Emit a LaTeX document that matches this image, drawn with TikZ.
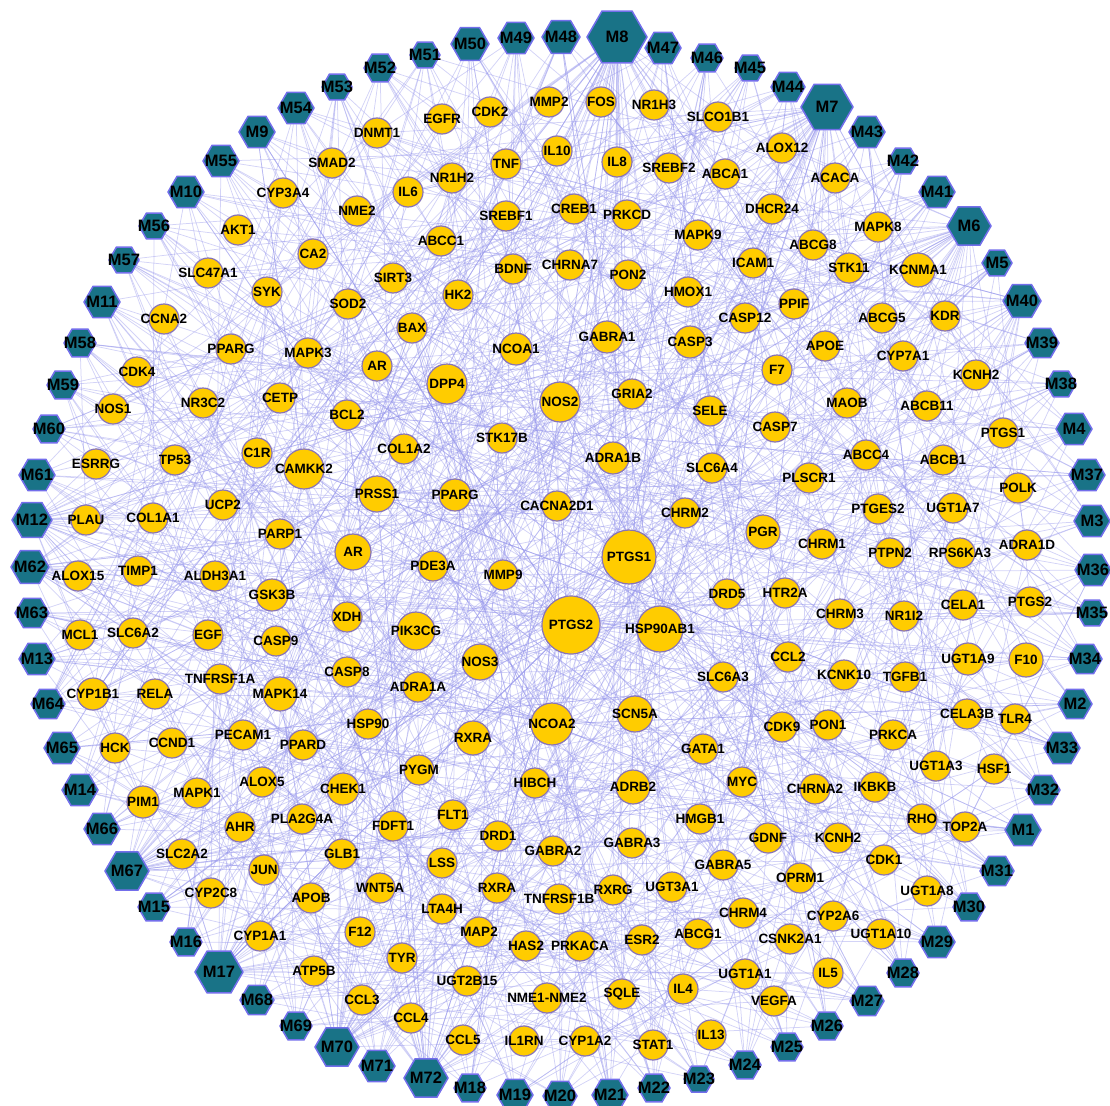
\documentclass[tikz,border=0pt]{standalone}
\usepackage{fontspec}
\setmainfont{Liberation Sans}
\usetikzlibrary{shapes.geometric}

\pgfdeclarelayer{back}
\pgfsetlayers{back,main}

\definecolor{hexfill}{RGB}{25,115,135}
\definecolor{hexline}{RGB}{115,110,235}
\definecolor{tgtfill}{RGB}{255,204,0}
\definecolor{tgtline}{RGB}{135,115,185}
\definecolor{linkcol}{RGB}{150,150,235}

\tikzset{
  tlab/.style={font=\bfseries\fontsize{13.5}{14}\selectfont, text=black, inner sep=0pt},
  hlab/.style={font=\bfseries\fontsize{16.5}{17}\selectfont, text=black, inner sep=0pt},
  target/.style={circle, draw=tgtline, fill=tgtfill, line width=1.2pt,
    minimum size=30pt, inner sep=0pt, label={[tlab]center:#1}},
  hexa/.style={regular polygon, regular polygon sides=6, draw=hexline, fill=hexfill,
    line width=1.5pt, minimum size=34pt, inner sep=0pt, label={[hlab]center:#1}},
  link/.style={draw=linkcol, line width=0.75pt, opacity=0.42},
}

\begin{document}
\begin{tikzpicture}[x=1pt, y=-1pt]
\useasboundingbox (0,0) rectangle (1110,1105);

% Outer ring: the compounds.
\node[hexa=M8, minimum size=60pt] (m8) at (617,37) {};
\node[hexa=M47, minimum size=36pt] (m47) at (663,48) {};
\node[hexa=M46, minimum size=32pt] (m46) at (707,58) {};
\node[hexa=M45, minimum size=30pt] (m45) at (750,68) {};
\node[hexa=M44, minimum size=34pt] (m44) at (788,87) {};
\node[hexa=M7, minimum size=52pt] (m7) at (827,107) {};
\node[hexa=M43, minimum size=36pt] (m43) at (867,132) {};
\node[hexa=M42, minimum size=30pt] (m42) at (903,161) {};
\node[hexa=M41, minimum size=36pt] (m41) at (937,192) {};
\node[hexa=M6, minimum size=44pt] (m6) at (969,226) {};
\node[hexa=M5, minimum size=30pt] (m5) at (997,263) {};
\node[hexa=M40, minimum size=38pt] (m40) at (1022,301) {};
\node[hexa=M39, minimum size=34pt] (m39) at (1042,343) {};
\node[hexa=M38, minimum size=30pt] (m38) at (1061,384) {};
\node[hexa=M4, minimum size=36pt] (m4) at (1074,429) {};
\node[hexa=M37, minimum size=36pt] (m37) at (1087,475) {};
\node[hexa=M3, minimum size=36pt] (m3) at (1092,521) {};
\node[hexa=M36, minimum size=36pt] (m36) at (1093,570) {};
\node[hexa=M35, minimum size=30pt] (m35) at (1092,613) {};
\node[hexa=M34, minimum size=34pt] (m34) at (1085,659) {};
\node[hexa=M2, minimum size=34pt] (m2) at (1075,704) {};
\node[hexa=M33, minimum size=36pt] (m33) at (1062,748) {};
\node[hexa=M32, minimum size=34pt] (m32) at (1043,790) {};
\node[hexa=M1, minimum size=36pt] (m1) at (1023,830) {};
\node[hexa=M31, minimum size=34pt] (m31) at (997,871) {};
\node[hexa=M30, minimum size=32pt] (m30) at (969,907) {};
\node[hexa=M29, minimum size=36pt] (m29) at (937,942) {};
\node[hexa=M28, minimum size=32pt] (m28) at (903,973) {};
\node[hexa=M27, minimum size=34pt] (m27) at (867,1001) {};
\node[hexa=M26, minimum size=32pt] (m26) at (827,1026) {};
\node[hexa=M25, minimum size=32pt] (m25) at (787,1047) {};
\node[hexa=M24, minimum size=32pt] (m24) at (745,1065) {};
\node[hexa=M23, minimum size=30pt] (m23) at (699,1079) {};
\node[hexa=M22, minimum size=32pt] (m22) at (654,1088) {};
\node[hexa=M21, minimum size=36pt] (m21) at (610,1095) {};
\node[hexa=M20, minimum size=34pt] (m20) at (560,1096) {};
\node[hexa=M19, minimum size=36pt] (m19) at (515,1095) {};
\node[hexa=M18, minimum size=32pt] (m18) at (470,1088) {};
\node[hexa=M72, minimum size=44pt] (m72) at (426,1078) {};
\node[hexa=M71, minimum size=36pt] (m71) at (377,1066) {};
\node[hexa=M70, minimum size=44pt] (m70) at (337,1047) {};
\node[hexa=M69, minimum size=32pt] (m69) at (296,1026) {};
\node[hexa=M68, minimum size=34pt] (m68) at (257,1000) {};
\node[hexa=M17, minimum size=48pt] (m17) at (219,972) {};
\node[hexa=M16, minimum size=32pt] (m16) at (186,942) {};
\node[hexa=M15, minimum size=32pt] (m15) at (154,907) {};
\node[hexa=M67, minimum size=44pt] (m67) at (127,871) {};
\node[hexa=M66, minimum size=36pt] (m66) at (102,829) {};
\node[hexa=M14, minimum size=36pt] (m14) at (80,790) {};
\node[hexa=M65, minimum size=36pt] (m65) at (62,748) {};
\node[hexa=M64, minimum size=34pt] (m64) at (48,704) {};
\node[hexa=M13, minimum size=36pt] (m13) at (37,659) {};
\node[hexa=M63, minimum size=34pt] (m63) at (32,613) {};
\node[hexa=M62, minimum size=38pt] (m62) at (30,567) {};
\node[hexa=M12, minimum size=40pt] (m12) at (32,520) {};
\node[hexa=M61, minimum size=36pt] (m61) at (37,475) {};
\node[hexa=M60, minimum size=32pt] (m60) at (49,429) {};
\node[hexa=M59, minimum size=32pt] (m59) at (63,385) {};
\node[hexa=M58, minimum size=32pt] (m58) at (80,343) {};
\node[hexa=M11, minimum size=36pt] (m11) at (102,302) {};
\node[hexa=M57, minimum size=30pt] (m57) at (124,260) {};
\node[hexa=M56, minimum size=30pt] (m56) at (154,226) {};
\node[hexa=M10, minimum size=36pt] (m10) at (186,192) {};
\node[hexa=M55, minimum size=36pt] (m55) at (221,161) {};
\node[hexa=M9, minimum size=36pt] (m9) at (257,132) {};
\node[hexa=M54, minimum size=36pt] (m54) at (296,108) {};
\node[hexa=M53, minimum size=30pt] (m53) at (337,87) {};
\node[hexa=M52, minimum size=32pt] (m52) at (380,68) {};
\node[hexa=M51, minimum size=30pt] (m51) at (425,55) {};
\node[hexa=M50, minimum size=38pt] (m50) at (470,44) {};
\node[hexa=M49, minimum size=36pt] (m49) at (516,38) {};
\node[hexa=M48, minimum size=38pt] (m48) at (561,37) {};

% Inner disc: the targets.
\node[target=DNMT1] (dnmt1) at (377,133) {};
\node[target=EGFR] (egfr) at (442,119) {};
\node[target=CDK2] (cdk2) at (490,112) {};
\node[target=MMP2] (mmp2) at (549,102) {};
\node[target=FOS] (fos) at (601,102) {};
\node[target=NR1H3] (nr1h3) at (654,105) {};
\node[target=SLCO1B1] (slco1b1) at (718,117) {};
\node[target=ALOX12] (alox12) at (782,148) {};
\node[target=ACACA] (acaca) at (835,178) {};
\node[target=SMAD2] (smad2) at (332,163) {};
\node[target=NR1H2] (nr1h2) at (452,178) {};
\node[target=TNF] (tnf) at (506,164) {};
\node[target=IL10] (il10) at (557,151) {};
\node[target=IL8] (il8) at (617,162) {};
\node[target=SREBF2] (srebf2) at (669,168) {};
\node[target=ABCA1] (abca1) at (725,174) {};
\node[target=CYP3A4] (cyp3a4) at (283,193) {};
\node[target=IL6] (il6) at (408,192) {};
\node[target=NME2] (nme2) at (357,211) {};
\node[target=SREBF1] (srebf1) at (506,216) {};
\node[target=CREB1] (creb1) at (574,209) {};
\node[target=PRKCD] (prkcd) at (627,215) {};
\node[target=DHCR24] (dhcr24) at (772,209) {};
\node[target=MAPK8] (mapk8) at (878,227) {};
\node[target=AKT1] (akt1) at (238,230) {};
\node[target=ABCC1] (abcc1) at (441,241) {};
\node[target=MAPK9] (mapk9) at (698,235) {};
\node[target=ABCG8] (abcg8) at (813,245) {};
\node[target=CA2] (ca2) at (313,254) {};
\node[target=SIRT3] (sirt3) at (393,278) {};
\node[target=BDNF] (bdnf) at (513,269) {};
\node[target=CHRNA7] (chrna7) at (570,265) {};
\node[target=PON2] (pon2) at (628,275) {};
\node[target=HMOX1] (hmox1) at (688,292) {};
\node[target=ICAM1] (icam1) at (753,263) {};
\node[target=STK11] (stk11) at (849,268) {};
\node[target=KCNMA1, minimum size=34pt] (kcnma1) at (918,270) {};
\node[target=SLC47A1] (slc47a1) at (208,273) {};
\node[target=SYK] (syk) at (267,292) {};
\node[target=HK2] (hk2) at (458,295) {};
\node[target=SOD2] (sod2) at (348,304) {};
\node[target=PPIF] (ppif) at (794,304) {};
\node[target=CCNA2] (ccna2) at (164,319) {};
\node[target=BAX] (bax) at (412,328) {};
\node[target=NCOA1, minimum size=32pt] (ncoa1) at (516,349) {};
\node[target=GABRA1, minimum size=32pt] (gabra1) at (607,337) {};
\node[target=CASP3, minimum size=32pt] (casp3) at (690,342) {};
\node[target=CASP12] (casp12) at (745,318) {};
\node[target=ABCG5] (abcg5) at (882,318) {};
\node[target=KDR] (kdr) at (945,316) {};
\node[target=PPARG] (pparg) at (231,349) {};
\node[target=MAPK3] (mapk3) at (308,353) {};
\node[target=AR] (ar) at (377,366) {};
\node[target=DPP4, minimum size=40pt] (dpp4) at (447,384) {};
\node[target=APOE] (apoe) at (825,346) {};
\node[target=CYP7A1] (cyp7a1) at (903,356) {};
\node[target=CDK4] (cdk4) at (137,372) {};
\node[target=F7] (f7) at (777,370) {};
\node[target=KCNH2] (kcnh2) at (976,375) {};
\node[target=NOS1] (nos1) at (113,409) {};
\node[target=NR3C2] (nr3c2) at (203,403) {};
\node[target=CETP] (cetp) at (280,398) {};
\node[target=BCL2] (bcl2) at (347,415) {};
\node[target=NOS2, minimum size=40pt] (nos2) at (560,402) {};
\node[target=GRIA2] (gria2) at (632,394) {};
\node[target=SELE] (sele) at (710,411) {};
\node[target=MAOB] (maob) at (847,403) {};
\node[target=ABCB11] (abcb11) at (927,406) {};
\node[target=ESRRG] (esrrg) at (96,464) {};
\node[target=TP53] (tp53) at (175,460) {};
\node[target=C1R] (c1r) at (257,453) {};
\node[target=CAMKK2, minimum size=40pt] (camkk2) at (304,469) {};
\node[target=COL1A2] (col1a2) at (404,449) {};
\node[target=STK17B] (stk17b) at (502,438) {};
\node[target=ADRA1B, minimum size=32pt] (adra1b) at (613,458) {};
\node[target=CASP7] (casp7) at (775,427) {};
\node[target=ABCC4] (abcc4) at (866,455) {};
\node[target=PTGS1] (ptgs1b) at (1003,433) {};
\node[target=SLC6A4] (slc6a4) at (712,468) {};
\node[target=PLSCR1] (plscr1) at (809,478) {};
\node[target=ABCB1] (abcb1) at (943,460) {};
\node[target=COL1A1] (col1a1) at (153,518) {};
\node[target=PRSS1, minimum size=36pt] (prss1) at (377,494) {};
\node[target=PPARG, minimum size=32pt] (pparg2) at (455,495) {};
\node[target=CACNA2D1] (cacna2d1) at (557,506) {};
\node[target=CHRM2] (chrm2) at (685,513) {};
\node[target=PGR, minimum size=34pt] (pgr) at (763,532) {};
\node[target=PTGES2] (ptges2) at (878,509) {};
\node[target=UGT1A7] (ugt1a7) at (953,508) {};
\node[target=POLK] (polk) at (1018,488) {};
\node[target=PLAU] (plau) at (86,520) {};
\node[target=UCP2] (ucp2) at (223,505) {};
\node[target=PARP1] (parp1) at (280,534) {};
\node[target=CHRM1] (chrm1) at (822,544) {};
\node[target=PTPN2] (ptpn2) at (890,553) {};
\node[target=RPS6KA3] (rps6ka3) at (960,553) {};
\node[target=ADRA1D] (adra1d) at (1027,545) {};
\node[target=ALOX15] (alox15) at (78,576) {};
\node[target=TIMP1] (timp1) at (138,571) {};
\node[target=ALDH3A1] (aldh3a1) at (215,576) {};
\node[target=AR, minimum size=36pt] (ar2) at (353,552) {};
\node[target=PDE3A] (pde3a) at (433,566) {};
\node[target=MMP9] (mmp9) at (503,575) {};
\node[target=PTGS1, minimum size=54pt] (ptgs1) at (629,557) {};
\node[target=DRD5] (drd5) at (727,594) {};
\node[target=HTR2A] (htr2a) at (785,593) {};
\node[target=CELA1] (cela1) at (963,605) {};
\node[target=PTGS2] (ptgs2b) at (1030,602) {};
\node[target=GSK3B, minimum size=32pt] (gsk3b) at (272,595) {};
\node[target=XDH] (xdh) at (347,617) {};
\node[target=PIK3CG, minimum size=38pt] (pik3cg) at (416,631) {};
\node[target=PTGS2, minimum size=58pt] (ptgs2) at (571,625) {};
\node[target=HSP90AB1, minimum size=46pt] (hsp90ab1) at (660,629) {};
\node[target=CHRM3] (chrm3) at (840,614) {};
\node[target=NR1I2] (nr1i2) at (904,616) {};
\node[target=MCL1] (mcl1) at (80,635) {};
\node[target=SLC6A2] (slc6a2) at (133,633) {};
\node[target=EGF] (egf) at (208,635) {};
\node[target=CASP9] (casp9) at (276,641) {};
\node[target=NOS3, minimum size=36pt] (nos3) at (480,662) {};
\node[target=UGT1A9, minimum size=32pt] (ugt1a9) at (968,659) {};
\node[target=F10, minimum size=34pt] (f10) at (1026,660) {};
\node[target=CYP1B1, minimum size=32pt] (cyp1b1) at (93,694) {};
\node[target=RELA] (rela) at (155,694) {};
\node[target=TNFRSF1A] (tnfrsf1a) at (220,679) {};
\node[target=MAPK14, minimum size=34pt] (mapk14) at (280,694) {};
\node[target=CASP8] (casp8) at (347,672) {};
\node[target=ADRA1A] (adra1a) at (418,687) {};
\node[target=SLC6A3] (slc6a3) at (723,677) {};
\node[target=CCL2] (ccl2) at (788,657) {};
\node[target=KCNK10] (kcnk10) at (844,675) {};
\node[target=TGFB1] (tgfb1) at (905,677) {};
\node[target=HSP90] (hsp90) at (368,724) {};
\node[target=NCOA2, minimum size=42pt] (ncoa2) at (552,724) {};
\node[target=SCN5A, minimum size=36pt] (scn5a) at (635,714) {};
\node[target=CELA3B] (cela3b) at (967,714) {};
\node[target=TLR4] (tlr4) at (1015,719) {};
\node[target=HCK] (hck) at (115,748) {};
\node[target=CCND1] (ccnd1) at (172,743) {};
\node[target=PECAM1] (pecam1) at (243,735) {};
\node[target=PPARD] (ppard) at (303,745) {};
\node[target=RXRA, minimum size=34pt] (rxra) at (473,738) {};
\node[target=CDK9] (cdk9) at (782,727) {};
\node[target=PON1] (pon1) at (828,725) {};
\node[target=PRKCA] (prkca) at (893,735) {};
\node[target=GATA1] (gata1) at (703,749) {};
\node[target=PIM1, minimum size=32pt] (pim1) at (143,802) {};
\node[target=MAPK1] (mapk1) at (197,793) {};
\node[target=ALOX5] (alox5) at (262,782) {};
\node[target=CHEK1, minimum size=32pt] (chek1) at (343,789) {};
\node[target=PYGM] (pygm) at (419,770) {};
\node[target=HIBCH] (hibch) at (535,783) {};
\node[target=ADRB2, minimum size=34pt] (adrb2) at (633,787) {};
\node[target=MYC] (myc) at (742,782) {};
\node[target=UGT1A3] (ugt1a3) at (936,766) {};
\node[target=HSF1] (hsf1) at (994,769) {};
\node[target=IKBKB] (ikbkb) at (875,787) {};
\node[target=CHRNA2] (chrna2) at (815,789) {};
\node[target=AHR] (ahr) at (240,827) {};
\node[target=PLA2G4A] (pla2g4a) at (302,819) {};
\node[target=FDFT1] (fdft1) at (393,826) {};
\node[target=FLT1] (flt1) at (453,815) {};
\node[target=HMGB1] (hmgb1) at (700,819) {};
\node[target=RHO] (rho) at (922,819) {};
\node[target=TOP2A] (top2a) at (965,827) {};
\node[target=SLC2A2] (slc2a2) at (182,854) {};
\node[target=GLB1] (glb1) at (342,854) {};
\node[target=DRD1] (drd1) at (498,836) {};
\node[target=GABRA2] (gabra2) at (553,851) {};
\node[target=GABRA3] (gabra3) at (632,843) {};
\node[target=GDNF] (gdnf) at (768,838) {};
\node[target=KCNH2] (kcnh2b) at (838,838) {};
\node[target=CDK1] (cdk1) at (884,860) {};
\node[target=JUN] (jun) at (264,870) {};
\node[target=LSS] (lss) at (442,863) {};
\node[target=GABRA5] (gabra5) at (723,865) {};
\node[target=CYP2C8] (cyp2c8) at (211,893) {};
\node[target=APOB] (apob) at (311,898) {};
\node[target=WNT5A] (wnt5a) at (380,888) {};
\node[target=RXRA] (rxra2) at (497,888) {};
\node[target=TNFRSF1B] (tnfrsf1b) at (559,899) {};
\node[target=RXRG] (rxrg) at (613,890) {};
\node[target=UGT3A1] (ugt3a1) at (672,887) {};
\node[target=OPRM1] (oprm1) at (800,878) {};
\node[target=UGT1A8] (ugt1a8) at (927,891) {};
\node[target=CYP1A1] (cyp1a1) at (260,936) {};
\node[target=LTA4H] (lta4h) at (442,909) {};
\node[target=CHRM4] (chrm4) at (743,913) {};
\node[target=CYP2A6] (cyp2a6) at (833,916) {};
\node[target=F12] (f12) at (360,932) {};
\node[target=MAP2] (map2) at (479,932) {};
\node[target=HAS2] (has2) at (526,946) {};
\node[target=PRKACA] (prkaca) at (580,946) {};
\node[target=ESR2] (esr2) at (642,940) {};
\node[target=ABCG1] (abcg1) at (698,934) {};
\node[target=CSNK2A1] (csnk2a1) at (790,939) {};
\node[target=UGT1A10] (ugt1a10) at (881,934) {};
\node[target=ATP5B] (atp5b) at (314,971) {};
\node[target=TYR] (tyr) at (402,958) {};
\node[target=UGT2B15] (ugt2b15) at (467,981) {};
\node[target=NME1-NME2] (nme1nme2) at (547,998) {};
\node[target=SQLE] (sqle) at (622,994) {};
\node[target=IL4] (il4) at (683,989) {};
\node[target=UGT1A1] (ugt1a1) at (745,974) {};
\node[target=IL5] (il5) at (828,973) {};
\node[target=CCL3] (ccl3) at (362,1000) {};
\node[target=CCL4] (ccl4) at (411,1018) {};
\node[target=VEGFA] (vegfa) at (774,1001) {};
\node[target=CCL5] (ccl5) at (463,1040) {};
\node[target=IL1RN] (il1rn) at (524,1041) {};
\node[target=CYP1A2] (cyp1a2) at (585,1041) {};
\node[target=STAT1] (stat1) at (653,1045) {};
\node[target=IL13] (il13) at (711,1035) {};

% Links from every compound to its targets, behind the nodes.
\pgfmathdeclarerandomlist{targets}{%
{ptgs2}{ptgs2}{ptgs2}{ptgs2}{ptgs2}{ptgs2}{ptgs1}{ptgs1}{ptgs1}{ptgs1}{ptgs1}
{hsp90ab1}{hsp90ab1}{hsp90ab1}{hsp90ab1}{ncoa2}{ncoa2}{ncoa2}{nos2}{nos2}{nos2}
{dpp4}{dpp4}{dpp4}{camkk2}{camkk2}{pik3cg}{pik3cg}{pik3cg}{ar2}{ar2}{nos3}{nos3}
{prss1}{prss1}{scn5a}{scn5a}{rxra}{adrb2}{mapk14}{pgr}{kcnma1}
{dnmt1}{egfr}{cdk2}{mmp2}{fos}{nr1h3}{slco1b1}{alox12}{acaca}{smad2}{nr1h2}{tnf}
{il10}{il8}{srebf2}{abca1}{cyp3a4}{il6}{nme2}{srebf1}{creb1}{prkcd}{dhcr24}{mapk8}
{akt1}{abcc1}{mapk9}{abcg8}{ca2}{sirt3}{bdnf}{chrna7}{pon2}{hmox1}{icam1}{stk11}
{kcnma1}{slc47a1}{syk}{hk2}{sod2}{ppif}{ccna2}{bax}{ncoa1}{gabra1}{casp3}{casp12}
{abcg5}{kdr}{pparg}{mapk3}{ar}{dpp4}{apoe}{cyp7a1}{cdk4}{f7}{kcnh2}{nos1}{nr3c2}
{cetp}{bcl2}{nos2}{gria2}{sele}{maob}{abcb11}{esrrg}{tp53}{c1r}{camkk2}{col1a2}
{stk17b}{adra1b}{casp7}{abcc4}{ptgs1b}{slc6a4}{plscr1}{abcb1}{col1a1}{prss1}
{pparg2}{cacna2d1}{chrm2}{pgr}{ptges2}{ugt1a7}{polk}{plau}{ucp2}{parp1}{chrm1}
{ptpn2}{rps6ka3}{adra1d}{alox15}{timp1}{aldh3a1}{ar2}{pde3a}{mmp9}{ptgs1}{drd5}
{htr2a}{cela1}{ptgs2b}{gsk3b}{xdh}{pik3cg}{ptgs2}{hsp90ab1}{chrm3}{nr1i2}{mcl1}
{slc6a2}{egf}{casp9}{nos3}{ugt1a9}{f10}{cyp1b1}{rela}{tnfrsf1a}{mapk14}{casp8}
{adra1a}{slc6a3}{ccl2}{kcnk10}{tgfb1}{hsp90}{ncoa2}{scn5a}{cela3b}{tlr4}{hck}
{ccnd1}{pecam1}{ppard}{rxra}{cdk9}{pon1}{prkca}{gata1}{pim1}{mapk1}{alox5}{chek1}
{pygm}{hibch}{adrb2}{myc}{ugt1a3}{hsf1}{ikbkb}{chrna2}{ahr}{pla2g4a}{fdft1}{flt1}
{hmgb1}{rho}{top2a}{slc2a2}{glb1}{drd1}{gabra2}{gabra3}{gdnf}{kcnh2b}{cdk1}{jun}
{lss}{gabra5}{cyp2c8}{apob}{wnt5a}{rxra2}{tnfrsf1b}{rxrg}{ugt3a1}{oprm1}{ugt1a8}
{cyp1a1}{lta4h}{chrm4}{cyp2a6}{f12}{map2}{has2}{prkaca}{esr2}{abcg1}{csnk2a1}
{ugt1a10}{atp5b}{tyr}{ugt2b15}{nme1nme2}{sqle}{il4}{ugt1a1}{il5}{ccl3}{ccl4}
{vegfa}{ccl5}{il1rn}{cyp1a2}{stat1}{il13}}
\pgfmathsetseed{1105}
\begin{pgfonlayer}{back}
  \foreach \hx in {1,...,72} {
    \foreach \i in {1,...,11} {
      \pgfmathrandomitem{\tg}{targets}
      \draw[link] (m\hx) -- (\tg);
    }
  }
  % the big compounds have more links
  \foreach \hx/\kk in {8/40, 7/32, 6/24, 17/24, 67/22, 72/22, 70/22, 12/18, 62/12, 40/10} {
    \foreach \i in {1,...,\kk} {
      \pgfmathrandomitem{\tg}{targets}
      \draw[link] (m\hx) -- (\tg);
    }
  }
\end{pgfonlayer}
\end{tikzpicture}
\end{document}
